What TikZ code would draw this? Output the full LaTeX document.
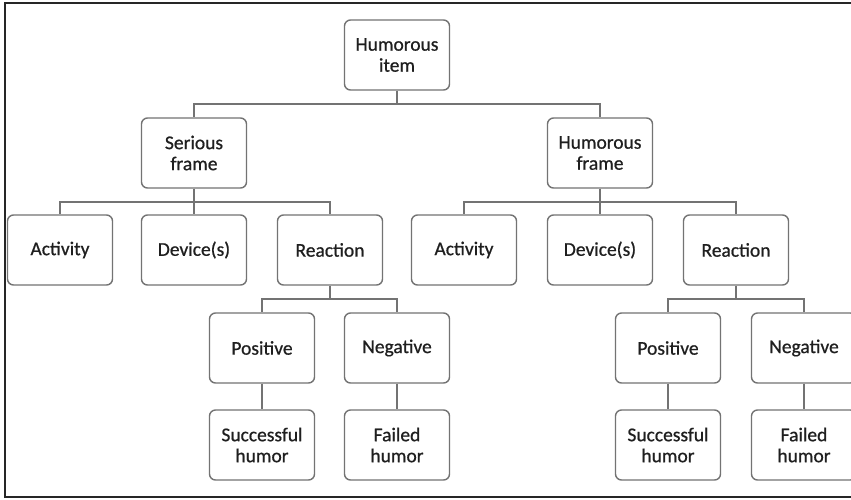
\documentclass[tikz,border=0pt]{standalone}
\usepackage{fontspec}
\setmainfont{Carlito}
\newfontfamily\boxfont[FakeBold=0.7]{Carlito}
\begin{document}
\begin{tikzpicture}[x=1pt,y=-1pt,
  box/.style={draw=boxgray, line width=1.4pt, rounded corners=6pt, minimum width=105pt, minimum height=70pt,
    align=center, inner sep=2pt, font=\boxfont\fontsize{19.5}{21}\selectfont, text=black!88},
  conn/.style={draw=boxgray, line width=1.4pt}]
\definecolor{boxgray}{RGB}{115,115,115}
\clip (0,0) rectangle (851,499);
\fill[white] (0,0) rectangle (851,499);
\draw[line width=2pt, black!85] (5,3) rectangle (880,497);
% nodes
\node[box] (item) at (397,55) {Humorous\\item};
\node[box] (sf) at (194,153) {Serious\\frame};
\node[box] (hf) at (600,153) {Humorous\\frame};
\node[box] (a1) at (60,250) {Activity};
\node[box] (d1) at (194,250) {Device(s)};
\node[box] (r1) at (330,250) {Reaction};
\node[box] (a2) at (464,250) {Activity};
\node[box] (d2) at (600,250) {Device(s)};
\node[box] (r2) at (736,250) {Reaction};
\node[box] (p1) at (262,348) {Positive};
\node[box] (n1) at (397,348) {Negative};
\node[box] (p2) at (668,348) {Positive};
\node[box] (n2) at (804,348) {Negative};
\node[box] (s1) at (262,445) {Successful\\humor};
\node[box] (f1) at (397,445) {Failed\\humor};
\node[box] (s2) at (668,445) {Successful\\humor};
\node[box] (f2) at (804,445) {Failed\\humor};
% bar levels
\coordinate (bar1) at (0,104);
\coordinate (bar2) at (0,202);
\coordinate (bar3) at (0,299);
% connectors
\draw[conn] (item.south) -- (item.south |- bar1) -| (sf.north);
\draw[conn] (item.south |- bar1) -| (hf.north);
\draw[conn] (sf.south) -- (sf.south |- bar2) -| (a1.north);
\draw[conn] (sf.south |- bar2) -| (r1.north);
\draw[conn] (sf.south |- bar2) -- (d1.north);
\draw[conn] (hf.south) -- (hf.south |- bar2) -| (a2.north);
\draw[conn] (hf.south |- bar2) -| (r2.north);
\draw[conn] (hf.south |- bar2) -- (d2.north);
\draw[conn] (r1.south) -- (r1.south |- bar3) -| (p1.north);
\draw[conn] (r1.south |- bar3) -| (n1.north);
\draw[conn] (r2.south) -- (r2.south |- bar3) -| (p2.north);
\draw[conn] (r2.south |- bar3) -| (n2.north);
\draw[conn] (p1) -- (s1);
\draw[conn] (n1) -- (f1);
\draw[conn] (p2) -- (s2);
\draw[conn] (n2) -- (f2);
\end{tikzpicture}
\end{document}
